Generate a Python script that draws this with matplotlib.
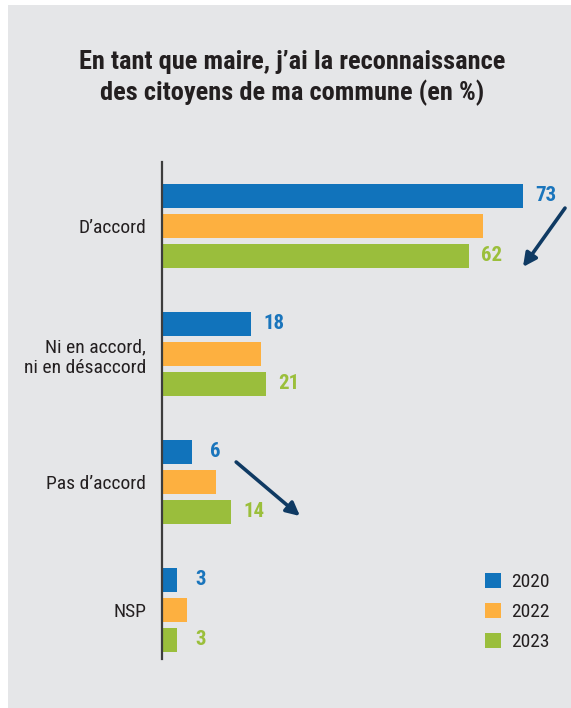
import matplotlib

matplotlib.use("Agg")
import matplotlib.pyplot as plt
import numpy as np
from matplotlib.patches import Rectangle

plt.rcParams["font.family"] = ["Roboto Condensed", "DejaVu Sans"]

# --- données ---
categories = ["D’accord", "Ni en accord,\nni en désaccord", "Pas d’accord", "NSP"]
years = ["2020", "2022", "2023"]
v2020 = [73, 18, 6, 3]
v2022 = [65, 20, 11, 5]
v2023 = [62, 21, 14, 3]
labelled = {"2020": True, "2022": False, "2023": True}

colors = {"2020": "#1173bb", "2022": "#fdb040", "2023": "#9abe3c"}
label_colors = {"2020": "#1a75bc", "2023": "#9bbf3b"}
BG = "#e5e6e8"
TXT = "#231f20"
ARROW = "#0f3a63"

fig = plt.figure(figsize=(5.71, 7.08), dpi=100)
fig.patch.set_facecolor("white")
fig.patches.append(Rectangle((8 / 571, 0), 1, 1 - 5 / 708, transform=fig.transFigure,
                             facecolor=BG, edgecolor="none", zorder=-10))

ax = fig.add_axes([162 / 571, 1 - 659 / 708, 400 / 571, 497 / 708])
ax.set_facecolor("none")

y = np.arange(len(categories))
off = 30 / 128
h = 24 / 128
series = {"2020": v2020, "2022": v2022, "2023": v2023}
for k, yr in enumerate(years):
    vals = series[yr]
    pos = y + (k - 1) * off
    ax.barh(pos, vals, height=h, color=colors[yr], label=yr, zorder=2)
    if labelled[yr]:
        for p, v in zip(pos, vals):
            # petites valeurs : étiquette un peu plus écartée, comme l'original
            gap = 2.5 if v >= 10 else 3.8
            ax.text(v + gap, p, str(v), va="center", ha="left", fontsize=15,
                    fontweight=600, color=label_colors[yr])

ax.set_xlim(0, 400 / 4.945)
ax.set_ylim(3.383, -0.5)
ax.set_xticks([])
ax.set_yticks(y)
ax.set_yticklabels(categories, fontsize=14, color=TXT)
ax.tick_params(axis="y", length=0, pad=11.5)
for s in ("top", "right", "bottom"):
    ax.spines[s].set_visible(False)
ax.spines["left"].set_color("#3d3d3d")
ax.spines["left"].set_linewidth(1.6)

# flèches de tendance
ax.annotate("", xy=(73, 0.32), xytext=(81.5, -0.14), annotation_clip=False,
            arrowprops=dict(arrowstyle="-|>,head_length=0.8,head_width=0.4",
                            color=ARROW, lw=2.6, shrinkA=0, shrinkB=0))
ax.annotate("", xy=(27.9, 2.266), xytext=(15, 1.844), annotation_clip=False,
            arrowprops=dict(arrowstyle="-|>,head_length=0.8,head_width=0.4",
                            color=ARROW, lw=2.6, shrinkA=0, shrinkB=0))

leg = ax.legend(loc="upper left", bbox_to_anchor=(485 / 571, 1 - 573 / 708),
                bbox_transform=fig.transFigure, frameon=False, fontsize=14,
                handlelength=0.82, handleheight=0.82, handletextpad=0.5,
                labelspacing=0.6, borderpad=0, borderaxespad=0)
for t in leg.get_texts():
    t.set_color(TXT)

fig.text(292 / 571, 1 - 78 / 708, "En tant que maire, j’ai la reconnaissance\ndes citoyens de ma commune (en %)",
         ha="center", va="center", fontsize=19, fontweight="bold", color=TXT,
         linespacing=1.32)

fig.savefig("out.png", dpi=100, facecolor=fig.get_facecolor())
